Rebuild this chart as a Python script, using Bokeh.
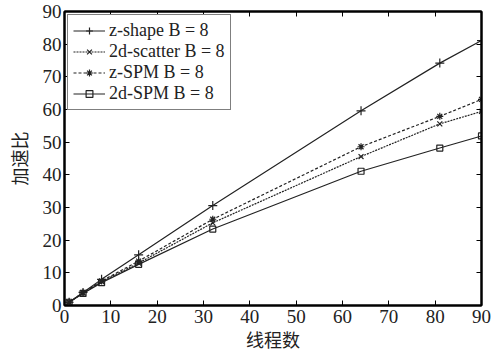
from bokeh.plotting import figure
from bokeh.models import LinearAxis, Range1d, Legend, LegendItem, FixedTicker
from bokeh.embed import file_html
from bokeh.resources import INLINE

threads = [1, 4, 8, 16, 32, 64, 81, 90]
z_shape = [1, 4.0, 8.0, 15.5, 30.6, 59.6, 74.2, 81.1]
scatter_2d = [1, 3.8, 7.3, 13.0, 25.3, 45.6, 55.6, 59.4]
z_spm = [1, 3.9, 7.5, 13.6, 26.4, 48.6, 57.9, 63.1]
spm_2d = [1, 3.7, 7.0, 12.6, 23.4, 41.1, 48.2, 51.9]
labels = ["z-shape B = 8", "2d-scatter B = 8", "z-SPM B = 8", "2d-SPM B = 8"]
ticks = list(range(0, 91, 10))

SERIF = "serif"
CJK = "Noto Sans CJK SC"

p = figure(width=496, height=356, output_backend="svg", toolbar_location=None,
           x_range=Range1d(0, 90), y_range=Range1d(0, 90),
           min_border_left=64, min_border_right=15, min_border_top=11, min_border_bottom=51)
p.xgrid.visible = False
p.ygrid.visible = False
p.outline_line_color = "black"
p.outline_line_width = 2

def style_axis(ax, show_labels=True):
    ax.ticker = FixedTicker(ticks=ticks)
    ax.axis_line_width = 2
    ax.axis_line_color = "black"
    ax.major_tick_in = 5
    ax.major_tick_out = 0
    ax.major_tick_line_width = 1
    ax.minor_tick_line_color = None
    ax.major_label_text_font = SERIF
    ax.major_label_text_font_size = "19px"
    ax.major_label_text_color = "#222222"
    ax.major_label_standoff = 4
    if not show_labels:
        ax.major_label_text_alpha = 0
        ax.major_label_text_font_size = "1px"
        ax.major_label_standoff = 0

style_axis(p.xaxis[0])
style_axis(p.yaxis[0])
p.yaxis[0].major_label_standoff = 3
p.xaxis[0].axis_label = "线程数"
p.yaxis[0].axis_label = "加速比"
for ax in (p.xaxis[0], p.yaxis[0]):
    ax.axis_label_text_font = CJK
    ax.axis_label_text_font_style = "normal"
    ax.axis_label_text_font_size = "18px"
    ax.axis_label_text_color = "#222222"
p.xaxis[0].axis_label_standoff = 0
p.yaxis[0].axis_label_standoff = 8

top = LinearAxis()
style_axis(top, False)
p.add_layout(top, "above")
right = LinearAxis()
style_axis(right, False)
p.add_layout(right, "right")

items = []
specs = [
    (z_shape, "solid", "cross", 9),
    (scatter_2d, "2 1", "x", 7),
    (z_spm, "3 2", "asterisk", 7),
    (spm_2d, "solid", "square", 6),
]
for data, dash, marker, size, label in [(s[0], s[1], s[2], s[3], l) for s, l in zip(specs, labels)]:
    r1 = p.line(threads, data, line_color="#222222", line_width=1.2, line_dash=dash)
    r2 = p.scatter(threads, data, marker=marker, size=size, line_color="#222222",
                   fill_color=None, line_width=1.2)
    items.append(LegendItem(label=label, renderers=[r1, r2]))

legend = Legend(items=items, location="top_left")
legend.border_line_color = "black"
legend.border_line_width = 1
legend.background_fill_color = "white"
legend.background_fill_alpha = 1
legend.label_text_font = SERIF
legend.label_text_font_size = "18px"
legend.label_text_color = "#222222"
legend.glyph_width = 32
legend.glyph_height = 17
legend.label_height = 17
legend.spacing = 0
legend.padding = 5
legend.margin = 3
legend.label_standoff = 4
p.add_layout(legend)

open("out.html", "w").write(file_html(p, INLINE))
